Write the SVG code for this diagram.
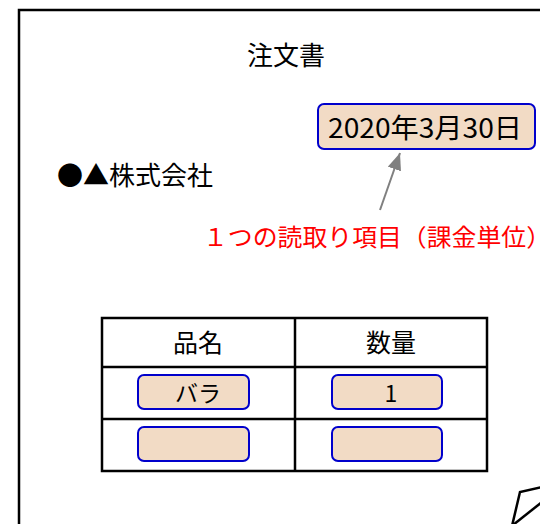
<svg xmlns="http://www.w3.org/2000/svg" width="540" height="524" viewBox="0 0 540 524">
<style>
text{font-family:"Noto Sans CJK JP","Noto Sans",sans-serif;fill:#000}
.box{fill:#F2DBC5;stroke:#0000CC;stroke-width:2}
.ln{stroke:#000;stroke-width:2.5;fill:none}
.red{fill:#FF0000}
</style>
<defs>
<marker id="ah" viewBox="0 0 17 14" refX="17" refY="7" markerWidth="8.5" markerHeight="7" orient="auto" markerUnits="strokeWidth">
<path d="M0,0 L17,7 L0,14 z" fill="#808080"/>
</marker>
</defs>
<rect width="540" height="524" fill="#fff"/>
<rect id="page" x="19" y="10" width="620" height="620" class="ln" fill="#fff"/>
<g id="title"><text x="286" y="65" font-size="26" text-anchor="middle">注文書</text></g>
<g id="company"><text x="57" y="185" font-size="26">●▲株式会社</text></g>
<g id="date">
<rect class="box" x="318" y="104" width="217" height="45" rx="6"/>
<text x="425" y="138" font-size="27" text-anchor="middle" textLength="194" lengthAdjust="spacingAndGlyphs">2020年3月30日</text>
</g>
<g id="note"><text class="red" x="203" y="246" font-size="24" textLength="348" lengthAdjust="spacingAndGlyphs">１つの読取り項目（課金単位）</text></g>
<g id="connectors">
<line x1="380" y1="210" x2="400" y2="153" stroke="#808080" stroke-width="2" marker-end="url(#ah)"/>
</g>
<g id="table">
<rect x="102" y="318" width="385" height="153" class="ln"/>
<line x1="295" y1="318" x2="295" y2="471" class="ln"/>
<line x1="102" y1="367" x2="487" y2="367" class="ln"/>
<line x1="102" y1="419" x2="487" y2="419" class="ln"/>
<text x="198" y="352" font-size="25" text-anchor="middle">品名</text>
<text x="391" y="352" font-size="25" text-anchor="middle">数量</text>
</g>
<g id="item1"><rect class="box" x="138" y="375" width="111" height="34" rx="6"/><text x="198" y="402" font-size="23" text-anchor="middle">バラ</text></g>
<g id="qty1"><rect class="box" x="332" y="375" width="110" height="34" rx="6"/><text x="391" y="402" font-size="23" text-anchor="middle">1</text></g>
<g id="item2"><rect class="box" x="138" y="427" width="111" height="34" rx="6"/></g>
<g id="qty2"><rect class="box" x="332" y="427" width="110" height="34" rx="6"/></g>
<g id="corner">
<polyline points="512,526 520,492 542,487" class="ln"/>
<line x1="513" y1="525" x2="542" y2="502" class="ln"/>
</g>
</svg>
